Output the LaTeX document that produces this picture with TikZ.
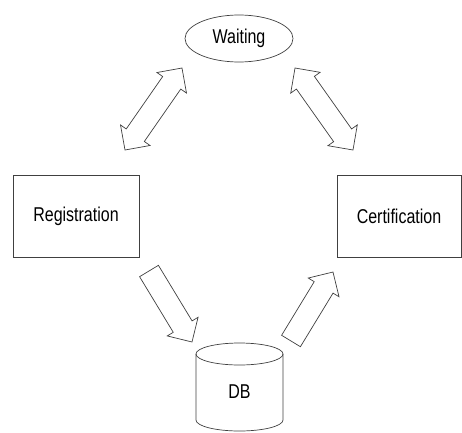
\documentclass[tikz,border=0pt]{standalone}
\usepackage{fontspec}
\setmainfont{Liberation Sans}[FakeStretch=0.8]
\usetikzlibrary{calc,shapes.geometric}
\tikzset{
  outline/.style={draw=black!75, line width=0.7pt},
  boxnode/.style={outline, rectangle, minimum width=#1, minimum height=82pt, inner sep=0pt},
  ellnode/.style={outline, ellipse, minimum width=108pt, minimum height=47pt, inner sep=0pt},
  lbl/.style={font=\fontsize{20}{22}\selectfont},
  blockarrow/.style={outline, fill=white, line join=miter}
}
% #1 tail, #2 tip : single block arrow
\newcommand\singleblk[2]{%
  \draw[blockarrow] let \p1=($(#2)-(#1)$), \n1={veclen(\x1,\y1)}, \n2={atan2(\y1,\x1)} in
    [shift={(#1)}, rotate=\n2]
    (0pt,11pt) -- (\n1-18pt,11pt) -- (\n1-18pt,18pt) -- (\n1,0pt) -- (\n1-18pt,-18pt) -- (\n1-18pt,-11pt) -- (0pt,-11pt) -- cycle;}
% #1 one tip, #2 other tip : double block arrow
\newcommand\doubleblk[2]{%
  \draw[blockarrow] let \p1=($(#2)-(#1)$), \n1={veclen(\x1,\y1)}, \n2={atan2(\y1,\x1)} in
    [shift={(#1)}, rotate=\n2]
    (0pt,0pt) -- (18pt,18pt) -- (18pt,11pt) -- (\n1-18pt,11pt) -- (\n1-18pt,18pt) -- (\n1,0pt) -- (\n1-18pt,-18pt) -- (\n1-18pt,-11pt) -- (18pt,-11pt) -- (18pt,-18pt) -- cycle;}
\begin{document}
\begin{tikzpicture}[x=1pt,y=1pt]
\useasboundingbox (0,0) rectangle (462,432);
% nodes
\node[ellnode, lbl] (wait) at (239,393.5) {Waiting};
\node[boxnode=126pt, lbl] (reg) at (76,216) {Registration};
\node[boxnode=124pt, lbl] (cert) at (399,216) {Certification};
\node[lbl, inner sep=0pt] (db) at (239.5,40) {DB};
% database cylinder
\draw[outline] ($(db)+(-43.5,38)$) -- ($(db)+(-43.5,-28)$)
  arc[start angle=180, end angle=360, x radius=43.5pt, y radius=11pt]
  -- ($(db)+(43.5,38)$);
\draw[outline] ($(db)+(0,38)$) ellipse [x radius=43.5pt, y radius=11pt];
% arrow end points
\coordinate (a1s) at (125,282);
\coordinate (a1e) at (182,364);
\coordinate (a2s) at (353,282);
\coordinate (a2e) at (295,364);
\coordinate (a3s) at (149,161);
\coordinate (a3e) at (192,90);
\coordinate (a4s) at (291,91);
\coordinate (a4e) at (333,160);
\doubleblk{a1s}{a1e}
\doubleblk{a2s}{a2e}
\singleblk{a3s}{a3e}
\singleblk{a4s}{a4e}
\end{tikzpicture}
\end{document}
